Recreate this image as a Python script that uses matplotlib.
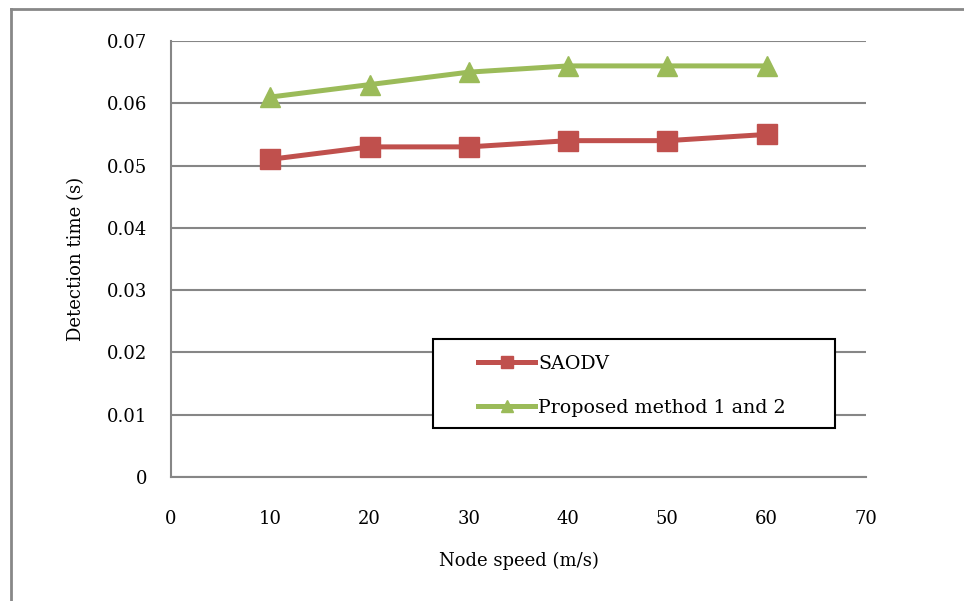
import matplotlib
matplotlib.use("Agg")
import matplotlib.pyplot as plt
from matplotlib.lines import Line2D
from matplotlib.patches import Rectangle

speeds = [10, 20, 30, 40, 50, 60]
saodv = [0.051, 0.053, 0.053, 0.054, 0.054, 0.055]
proposed = [0.061, 0.063, 0.065, 0.066, 0.066, 0.066]
xticks = [0, 10, 20, 30, 40, 50, 60, 70]
yticks = [0, 0.01, 0.02, 0.03, 0.04, 0.05, 0.06, 0.07]
ytick_labels = ["0", "0.01", "0.02", "0.03", "0.04", "0.05", "0.06", "0.07"]

plt.rcParams['font.family'] = ['DejaVu Serif']
W, H = 964, 601
fig = plt.figure(figsize=(W / 100, H / 100), dpi=100)
ax = fig.add_axes([171 / W, 1 - 477 / H, (866 - 171) / W, (477 - 41) / H])

red = '#C0504D'
green = '#9BBB59'
ax.plot(speeds, saodv, color=red, lw=3.6, marker='s', ms=14, label='SAODV')
ax.plot(speeds, proposed, color=green, lw=3.6, marker='^', ms=15, label='Proposed method 1 and 2')

ax.set_xlim(0, 70)
ax.set_ylim(0, 0.07)
ax.set_xticks(xticks)
ax.set_xticklabels([str(v) for v in xticks])
ax.set_yticks(yticks)
ax.set_yticklabels(ytick_labels)
ax.tick_params(axis='both', length=0, labelsize=13)
ax.tick_params(axis='y', pad=17)
ax.tick_params(axis='x', pad=24)
ax.grid(axis='y', color='#868686', lw=1.5)
ax.set_axisbelow(True)
for s in ['top', 'right']:
    ax.spines[s].set_visible(False)
for s in ['left', 'bottom']:
    ax.spines[s].set_color('#868686')
    ax.spines[s].set_linewidth(1.5)

ax.set_ylabel('Detection time (s)', fontsize=13, labelpad=16)
ax.set_xlabel('Node speed (m/s)', fontsize=13, labelpad=17)

# legend frame
fig.add_artist(Rectangle((433 / W, 1 - 428 / H), (835 - 433) / W, (428 - 339) / H,
                         transform=fig.transFigure, facecolor='white', edgecolor='black', lw=1.5, zorder=4))
leg = fig.legend(loc='upper left', bbox_to_anchor=(478 / W, 1 - 355 / H),
                 frameon=False, fontsize=13.7, markerscale=0.6,
                 handlelength=3.0, borderpad=0, labelspacing=1.35, borderaxespad=0, handletextpad=0.15)
leg.set_zorder(5)

# figure frame (left and top edges visible)
fig.add_artist(Line2D([10.5 / W, 10.5 / W], [0, 1 - 9 / H], transform=fig.transFigure, color='#888888', lw=2))
fig.add_artist(Line2D([10.5 / W, 1], [1 - 9 / H, 1 - 9 / H], transform=fig.transFigure, color='#888888', lw=2))

fig.savefig('out.png', dpi=100)
